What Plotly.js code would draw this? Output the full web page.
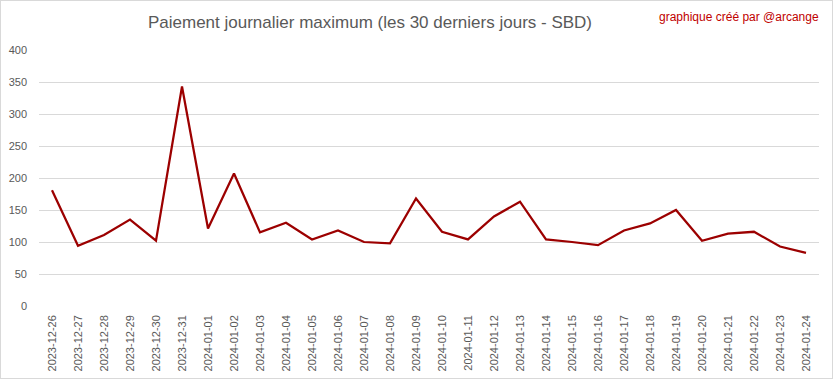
<!DOCTYPE html>
<html>
<head>
<meta charset="utf-8">
<script src="https://cdn.plot.ly/plotly-3.0.1.min.js"></script>
<style>
html,body{margin:0;padding:0;background:#fff;}
#chart{width:833px;height:379px;box-sizing:border-box;border:1px solid #d9d9d9;}
</style>
</head>
<body>
<div id="chart"></div>
<script>
const dates = ["2023-12-26","2023-12-27","2023-12-28","2023-12-29","2023-12-30","2023-12-31",
  "2024-01-01","2024-01-02","2024-01-03","2024-01-04","2024-01-05","2024-01-06","2024-01-07",
  "2024-01-08","2024-01-09","2024-01-10","2024-01-11","2024-01-12","2024-01-13","2024-01-14",
  "2024-01-15","2024-01-16","2024-01-17","2024-01-18","2024-01-19","2024-01-20","2024-01-21",
  "2024-01-22","2024-01-23","2024-01-24"];
const maxPayout = [181,94,111,135,102,343,121,207,115,130,104,118,100,98,168,
  116,104,140,163,104,100,95,118,129,150,102,113,116,93,83];
const yTicks = [0,50,100,150,200,250,300,350,400];

const trace = {
  x: dates, y: maxPayout, type: 'scatter', mode: 'lines',
  line: {color: '#9c0000', width: 2.25}, hoverinfo: 'x+y'
};
const layout = {
  width: 831, height: 377,
  margin: {l: 38, r: 13, t: 48.5, b: 72, pad: 0},
  paper_bgcolor: '#fff', plot_bgcolor: '#fff',
  showlegend: false,
  font: {family: 'Liberation Sans, Arial, sans-serif', color: '#595959', size: 11},
  title: {text: 'Paiement journalier maximum (les 30 derniers jours - SBD)',
    font: {family: 'Liberation Sans, Arial, sans-serif', size: 17, color: '#595959'},
    xref: 'container', yref: 'container', x: 369/831, xanchor: 'center', y: 1 - 21/377, yanchor: 'middle'},
  xaxis: {type: 'category', range: [-0.5, dates.length - 0.5], tickangle: -90,
    showgrid: false, zeroline: false, showline: false, ticks: '', ticklabelstandoff: 6,
    tickfont: {size: 11, color: '#595959'}, fixedrange: true},
  yaxis: {range: [0, 400], tickvals: yTicks, ticktext: yTicks.map(String),
    showgrid: true, gridcolor: '#d9d9d9', gridwidth: 1, zeroline: false, showline: false,
    ticks: '', ticklabelstandoff: 11, tickfont: {size: 11, color: '#595959'}, fixedrange: true},
  annotations: [{text: 'graphique créé par @arcange', xref: 'paper', yref: 'paper',
    x: (820 - 38) / 780, xanchor: 'right', y: (305.3 - 15) / 256.8, yanchor: 'middle',
    showarrow: false, font: {family: 'Liberation Sans, Arial, sans-serif', size: 12, color: '#c00000'}}]
};
Plotly.newPlot('chart', [trace], layout, {displayModeBar: false, staticPlot: true});
</script>
</body>
</html>
